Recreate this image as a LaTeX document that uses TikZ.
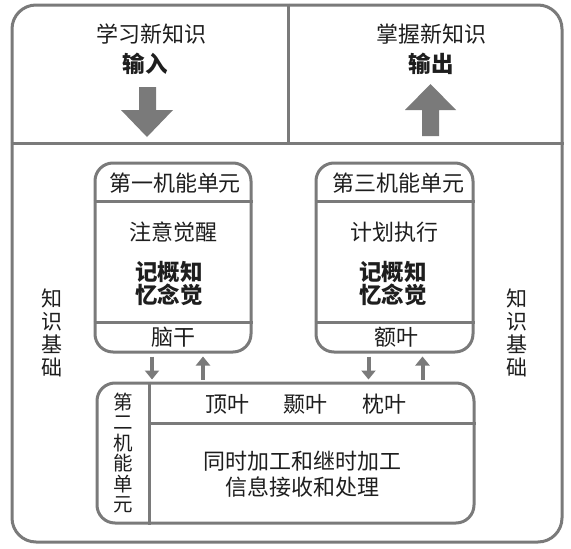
\documentclass[tikz,border=0pt]{standalone}
\usepackage{fontspec}
\setmainfont{Noto Sans CJK SC}
\usetikzlibrary{arrows.meta}
\definecolor{frame}{HTML}{7A7A7A}
\definecolor{ink}{HTML}{1E1E1E}
\begin{document}
\begin{tikzpicture}[x=1pt,y=-1pt,
  frameline/.style={draw=frame,line width=3pt},
  unitbox/.style={frameline,rounded corners=18pt,inner sep=0pt},
  txt/.style={text=ink,inner sep=0pt,align=center,font=\fontsize{22}{23}\selectfont},
  btxt/.style={text=ink,inner sep=0pt,align=center,font=\fontsize{22.5}{23}\selectfont\bfseries},
  vtxt/.style={text=ink,inner sep=0pt,align=center,font=\fontsize{19.5}{20.5}\selectfont},
  flow/.style={draw=frame,line width=4pt,-{Triangle[width=14pt,length=9pt]}},
  bigarrow/.style={fill=frame,draw=none}]
\useasboundingbox (0,0) rectangle (571,549);
\fill[white] (0,0) rectangle (571,549);
% outer frame
\node[unitbox,rounded corners=24pt,minimum width=550pt,minimum height=537pt] (outer) at (287,273.5) {};
\coordinate (hsplit) at (0,143);
\coordinate (vsplit) at (288,0);
\draw[frameline] (outer.west |- hsplit) -- (outer.east |- hsplit);
\draw[frameline] (outer.north -| vsplit) -- (vsplit |- hsplit);
% top texts
\node[txt] (learn) at (151,34) {学习新知识};
\node[btxt] (input) at (145,64) {输入};
\node[txt] (master) at (431,34) {掌握新知识};
\node[btxt] (output) at (431,64) {输出};
% big arrows
\fill[bigarrow] (139,87) -- (156,87) -- (156,110) -- (173,110) -- (147,137) -- (121,110) -- (139,110) -- cycle;
\fill[bigarrow] (422,136) -- (439,136) -- (439,110) -- (456,110) -- (430.5,84) -- (405,110) -- (422,110) -- cycle;
% unit 1
\node[unitbox,minimum width=156pt,minimum height=189pt] (u1) at (173,257.5) {};
\coordinate (h1) at (0,201);
\coordinate (h2) at (0,322);
\draw[frameline] (u1.west |- h1) -- (u1.east |- h1);
\draw[frameline] (u1.west |- h2) -- (u1.east |- h2);
\node[txt] (u1title) at (175,183) {第一机能单元};
\node[txt] (u1a) at (173,232) {注意觉醒};
\node[btxt] (u1b) at (169,283) {记概知\\忆念觉};
\node[txt] (u1c) at (173,337) {脑干};
% unit 3
\node[unitbox,minimum width=157pt,minimum height=189pt] (u3) at (394.5,257.5) {};
\draw[frameline] (u3.west |- h1) -- (u3.east |- h1);
\draw[frameline] (u3.west |- h2) -- (u3.east |- h2);
\node[txt] (u3title) at (398,183) {第三机能单元};
\node[txt] (u3a) at (394,232) {计划执行};
\node[btxt] (u3b) at (393,283) {记概知\\忆念觉};
\node[txt] (u3c) at (396,337) {额叶};
% unit 2
\node[unitbox,minimum width=377pt,minimum height=140pt] (u2) at (285.5,453) {};
\coordinate (v2) at (149,0);
\coordinate (h3) at (0,423);
\draw[frameline] (u2.north -| v2) -- (u2.south -| v2);
\draw[frameline] (v2 |- h3) -- (u2.east |- h3);
\node[txt] (ding) at (227,404) {顶叶};
\node[txt] (nie) at (305,404) {颞叶};
\node[txt] (zhen) at (384,404) {枕叶};
\node[txt,font=\fontsize{22}{26}\selectfont] (u2a) at (302,474) {同时加工和继时加工\\信息接收和处理};
\node[vtxt] (u2title) at (123,453) {第\\二\\机\\能\\单\\元};
% side labels
\node[txt,font=\fontsize{21}{23}\selectfont] (kbl) at (52,333) {知\\识\\基\\础};
\node[txt,font=\fontsize{21}{23}\selectfont] (kbr) at (517,333) {知\\识\\基\\础};
% connectors
\draw[flow,shorten <=3pt,shorten >=2pt] ([xshift=-21pt]u1.south) -- ([xshift=-21pt]u1.south |- u2.north);
\draw[flow,shorten <=2pt,shorten >=3pt] ([xshift=30pt]u1.south |- u2.north) -- ([xshift=30pt]u1.south);
\draw[flow,shorten <=3pt,shorten >=2pt] ([xshift=-26pt]u3.south) -- ([xshift=-26pt]u3.south |- u2.north);
\draw[flow,shorten <=2pt,shorten >=3pt] ([xshift=28pt]u3.south |- u2.north) -- ([xshift=28pt]u3.south);
\end{tikzpicture}
\end{document}
